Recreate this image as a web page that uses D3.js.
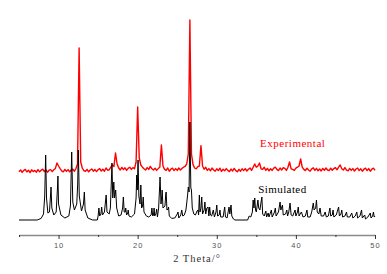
<!DOCTYPE html>
<html>
<head>
<meta charset="utf-8">
<script src="https://cdn.jsdelivr.net/npm/d3@7"></script>
<style>
  body { margin: 0; background: #fff; }
  svg { display: block; }
</style>
</head>
<body>
<div id="chart"></div>
<script>
// ---------------- data ----------------
// tick labels on the 2 theta axis
const majorTicks = [10, 20, 30, 40, 50];
const minorTicks = [5, 15, 25, 35, 45];

// simulated pattern, [2theta, intensity]
const simulated = [
  [5,0],[7.3,0],[7.8,8],[8.1,30],[8.25,120],[8.37,325],[8.48,110],[8.65,35],[8.85,40],[8.98,120],
  [9.05,165],[9.15,60],[9.4,25],[9.7,40],[9.85,150],[9.92,220],[10.0,80],[10.3,25],[10.8,10],[11.3,20],
  [11.5,70],[11.66,340],[11.8,90],[12.0,50],[12.3,80],[12.42,180],[12.5,350],[12.62,120],[12.9,45],[13.15,80],
  [13.26,140],[13.36,50],[13.7,10],[14.3,0],[14.9,0],[15.0,20],[15.1,60],[15.2,20],[15.35,30],[15.45,65],
  [15.55,25],[15.8,40],[15.95,100],[16.02,125],[16.12,40],[16.4,30],[16.55,60],[16.68,200],[16.75,285],[16.85,110],
  [16.93,150],[16.98,190],[17.08,110],[17.15,130],[17.22,150],[17.35,60],[17.6,20],[17.9,25],[18.1,60],[18.19,115],
  [18.3,40],[18.42,40],[18.49,60],[18.6,25],[18.75,35],[18.8,50],[18.9,20],[19.2,15],[19.6,30],[19.8,110],
  [19.88,225],[19.95,150],[20.05,300],[20.15,120],[20.3,80],[20.4,175],[20.5,60],[20.62,70],[20.7,115],[20.8,40],
  [21.1,20],[21.4,15],[21.7,25],[21.8,60],[21.9,20],[22.0,25],[22.08,60],[22.15,20],[22.3,30],[22.4,55],
  [22.5,15],[22.65,60],[22.78,170],[22.83,215],[22.95,80],[23.05,120],[23.1,150],[23.2,60],[23.45,70],[23.55,130],
  [23.6,140],[23.7,50],[23.85,55],[23.9,65],[24.0,20],[24.3,8],[24.7,10],[25.0,30],[25.1,40],[25.2,10],
  [25.45,25],[25.57,50],[25.7,20],[25.9,25],[26.1,50],[26.3,120],[26.4,165],[26.5,140],[26.6,490],[26.72,160],
  [26.8,150],[26.9,60],[27.1,30],[27.3,25],[27.5,45],[27.62,50],[27.7,25],[27.8,125],[27.88,40],[28.0,60],
  [28.1,115],[28.2,30],[28.4,50],[28.5,90],[28.6,30],[28.75,60],[28.9,65],[29.0,20],[29.1,65],[29.2,25],
  [29.35,20],[29.56,50],[29.7,15],[29.9,40],[30.0,75],[30.1,20],[30.3,25],[30.4,50],[30.5,15],[30.8,15],
  [31.0,65],[31.1,15],[31.3,10],[31.55,65],[31.65,30],[31.8,75],[31.9,20],[32.1,5],[32.3,0],[33.9,0],
  [34.1,20],[34.3,15],[34.5,40],[34.6,100],[34.7,60],[34.8,110],[34.9,50],[35.0,40],[35.1,70],[35.2,100],
  [35.3,60],[35.45,50],[35.6,90],[35.7,115],[35.8,30],[36.0,20],[36.2,45],[36.3,15],[36.5,35],[36.6,15],
  [36.9,50],[37.0,15],[37.3,40],[37.4,60],[37.5,20],[37.8,40],[38.0,90],[38.1,50],[38.3,75],[38.4,25],
  [38.7,30],[38.85,50],[38.95,20],[39.1,40],[39.26,85],[39.4,25],[39.6,20],[39.9,50],[40.0,20],[40.2,40],
  [40.3,65],[40.4,20],[40.6,35],[40.7,40],[40.9,15],[41.2,20],[41.4,50],[41.5,15],[41.8,15],[42.0,40],
  [42.2,85],[42.3,50],[42.5,60],[42.6,100],[42.7,40],[42.9,30],[43.05,60],[43.2,20],[43.5,20],[43.7,40],
  [43.85,15],[44.1,20],[44.3,60],[44.4,20],[44.6,25],[44.7,50],[44.8,15],[45.1,25],[45.4,65],[45.5,20],
  [45.7,30],[45.8,50],[45.9,15],[46.2,20],[46.4,40],[46.5,15],[46.8,15],[47.06,35],[47.2,10],[47.5,20],
  [47.7,40],[47.8,10],[48.1,20],[48.3,50],[48.4,10],[48.7,25],[48.8,5],[49.1,15],[49.4,35],[49.5,10],
  [49.7,20],[49.8,40],[49.9,15],[50,20]
];

// experimental scan, counts every 0.2 deg from 5 to 50
const expStart = 5;
const expStep = 0.2;
const experimental = [
  241,250,238,248,253,240,249,237,251,242,
  248,239,252,241,249,254,242,250,239,249,
  252,242,251,258,285,270,257,246,241,253,
  243,252,241,250,254,244,257,280,860,290,
  260,247,243,253,241,250,255,244,252,242,
  251,257,245,254,244,260,249,251,264,275,
  267,335,280,260,250,263,252,261,248,258,
  264,253,262,256,290,565,310,275,264,256,
  250,262,253,268,256,250,259,248,257,264,
  375,270,253,248,260,244,254,259,247,257,
  248,260,250,258,264,268,280,330,1000,330,
  277,260,256,267,270,372,270,254,264,248,
  257,246,260,250,244,256,247,259,243,254,
  246,257,248,242,255,245,258,247,241,253,
  244,256,247,257,245,254,260,248,264,280,
  264,270,285,256,253,264,248,258,246,256,
  248,259,264,253,247,260,250,262,258,248,
  264,290,256,253,248,259,264,270,305,264,
  253,247,259,250,244,256,261,248,258,246,
  255,245,258,248,260,250,247,259,249,257,
  262,251,264,275,256,250,262,249,246,258,
  248,257,245,255,260,247,256,244,254,259,
  247,257,244,254,259,248
];

// ---------------- chart ----------------
const W = 387, H = 274;
const svg = d3.select("#chart").append("svg")
  .attr("width", W)
  .attr("height", H);

const x = d3.scaleLinear().domain([5, 50]).range([19, 375]);
const y = d3.scaleLinear().domain([0, 1000]).range([220, 20]);

const line = d3.line()
  .x(d => x(d[0]))
  .y(d => y(d[1]));

// experimental (red) on top
const expPoints = experimental.map((v, i) => [expStart + i * expStep, v]);
svg.append("path")
  .datum(expPoints)
  .attr("fill", "none")
  .attr("stroke", "#ff0000")
  .attr("stroke-width", 1.4)
  .attr("stroke-linejoin", "round")
  .attr("d", line);

// simulated (black)
svg.append("path")
  .datum(simulated)
  .attr("fill", "none")
  .attr("stroke", "#000")
  .attr("stroke-width", 1)
  .attr("d", line);

// bottom axis with labels
const axisY = 235;
const xAxis = svg.append("g")
  .attr("transform", `translate(0,${axisY})`)
  .call(d3.axisBottom(x).tickValues(majorTicks).tickSize(4).tickSizeOuter(0).tickPadding(4));
xAxis.select(".domain").attr("stroke", "#8a8a8a").attr("stroke-width", 1.3);
xAxis.selectAll(".tick line").attr("stroke", "#333");
xAxis.selectAll(".tick text")
  .attr("fill", "#555")
  .style("font-family", "Arial, 'Liberation Sans', sans-serif")
  .style("font-size", "7.5px")
  .style("letter-spacing", "1px");

// minor ticks, no labels
const minorAxis = svg.append("g")
  .attr("transform", `translate(0,${axisY})`)
  .call(d3.axisBottom(x).tickValues(minorTicks).tickSize(2).tickFormat(""));
minorAxis.select(".domain").remove();
minorAxis.selectAll(".tick line").attr("stroke", "#333");

// axis title
svg.append("text")
  .attr("x", x(27.5))
  .attr("y", 262)
  .attr("text-anchor", "middle")
  .attr("fill", "#333")
  .style("font-family", "'Liberation Serif', 'Times New Roman', serif")
  .style("font-size", "10.5px")
  .style("letter-spacing", "1px")
  .text("2 Theta/\u00b0");

// series labels
svg.append("text")
  .attr("x", x(39.6))
  .attr("y", y(365))
  .attr("text-anchor", "middle")
  .attr("fill", "#ff0000")
  .style("font-family", "'Liberation Serif', 'Times New Roman', serif")
  .style("font-size", "11px")
  .style("letter-spacing", "0.5px")
  .text("Experimental");

svg.append("text")
  .attr("x", x(38.3))
  .attr("y", y(133))
  .attr("text-anchor", "middle")
  .attr("fill", "#000")
  .style("font-family", "'Liberation Serif', 'Times New Roman', serif")
  .style("font-size", "11px")
  .style("letter-spacing", "0.4px")
  .text("Simulated");
</script>
</body>
</html>
